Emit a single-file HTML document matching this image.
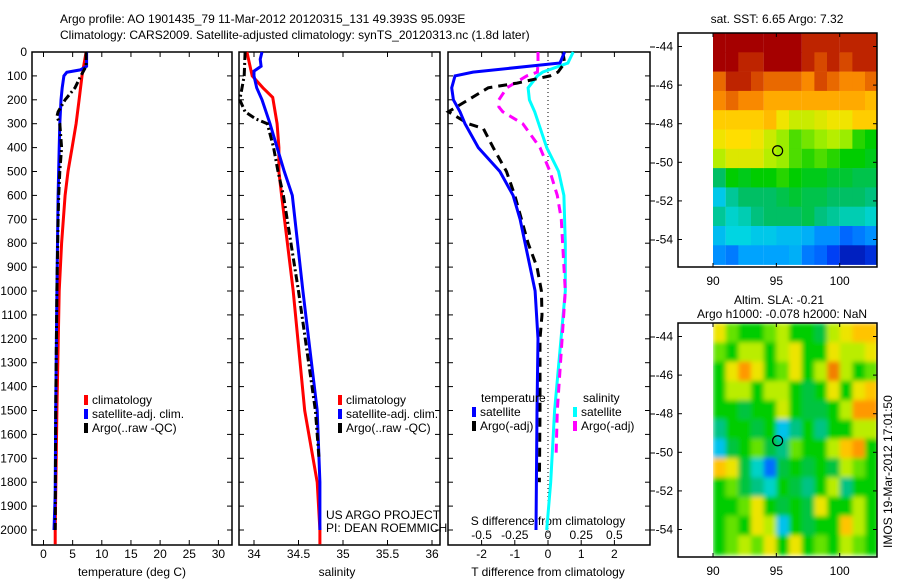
<!DOCTYPE html>
<html><head><meta charset="utf-8"><style>
body{margin:0;background:#fff;}
svg{display:block;font-family:"Liberation Sans",sans-serif;}
text{font-size:12px;fill:#000;}
</style></head><body>
<svg id="fig" width="900" height="580" viewBox="0 0 900 580">
<defs>
<clipPath id="slaClip"><rect x="713" y="323" width="164" height="234"/></clipPath>
<filter id="slaBlur" x="-5%" y="-5%" width="110%" height="110%"><feGaussianBlur stdDeviation="2.5"/></filter>
</defs>
<text x="60" y="23">Argo profile: AO 1901435_79 11-Mar-2012 20120315_131 49.393S 95.093E</text>
<text x="60" y="39">Climatology: CARS2009. Satellite-adjusted climatology: synTS_20120313.nc (1.8d later)</text>
<g id="plots"></g>
</svg>
<script>
// ---------- profile data ----------
const tDepClim=[0,100,200,300,400,500,600,800,1000,1500,2000,2060];
const tClim=[7.3,6.6,6.1,5.6,4.9,4.2,3.7,3.1,2.7,2.3,2.0,2.0];
const tDepSat=[0,60,75,85,100,150,200,300,400,600,1000,1500,1850,2000];
const tSat=[7.4,7.4,6.3,4.0,3.5,3.2,3.0,2.8,2.7,2.5,2.3,2.1,2.0,1.8];
const tDepArgo=[0,60,100,150,200,250,270,300,400,500,600,700,1000,1500,2000];
const tArgo=[7.3,7.3,6.4,5.4,3.7,2.5,2.3,2.8,3.1,2.8,2.6,2.5,2.3,2.1,2.0];
const sDepClim=[0,100,150,190,300,400,500,600,1000,1500,1800,2000,2060];
const sClim=[33.92,33.98,34.10,34.21,34.26,34.28,34.28,34.31,34.44,34.57,34.71,34.74,34.74];
const sDepSat=[0,30,60,80,100,150,200,300,400,500,600,1000,1500,1800,2000];
const sSat=[34.09,34.07,34.08,34.0,34.0,34.03,34.09,34.18,34.26,34.34,34.43,34.55,34.71,34.74,34.74];
const sDepArgo=[0,100,200,250,280,300,400,500,600,1000,1500,1700];
const sArgo=[33.90,33.89,33.84,33.90,34.02,34.15,34.22,34.27,34.33,34.50,34.69,34.73];
const dtDepSat=[0,46,84,100,150,200,250,300,400,500,600,700,800,900,1000,1200,1500,2000];
const dtSat=[0.5,0.36,-2.26,-2.8,-2.9,-2.85,-2.65,-2.5,-2.1,-1.45,-1.05,-0.84,-0.69,-0.54,-0.39,-0.3,-0.33,-0.36];
const dtDepArgo=[0,46,84,100,130,150,200,250,300,320,400,500,600,800,900,1000,1100,1200,1500,1800];
const dtArgo=[0.45,0.5,0.3,0.06,-0.93,-1.8,-2.4,-3.0,-2.4,-1.95,-1.65,-1.25,-1.0,-0.6,-0.33,-0.2,-0.18,-0.24,-0.24,-0.26];
const dsDepSat=[0,46,84,100,150,200,250,300,400,500,600,800,1000,1500,1800,2000];
const dsSat=[0.19,0.15,-0.04,-0.08,-0.15,-0.14,-0.1,-0.07,-0.01,0.08,0.12,0.13,0.13,0.05,0.02,-0.01];
const dsDepArgo=[0,46,84,100,150,200,230,250,300,400,500,600,700,800,1000,1500,1700];
const dsArgo=[-0.075,-0.075,-0.08,-0.16,-0.31,-0.37,-0.37,-0.34,-0.19,-0.06,0.015,0.07,0.1,0.11,0.13,0.07,0.06];
const depthTicks=[0,100,200,300,400,500,600,700,800,900,1000,1100,1200,1300,1400,1500,1600,1700,1800,1900,2000];
const tTicks=[0,5,10,15,20,25,30];
const sTicks=[34,34.5,35,35.5,36];
const dtTicks=[-2,-1,0,1,2];
const dsTicks=[-0.5,-0.25,0,0.25,0.5];
// ---------- map data ----------
const mapLons=[90,91,92,93,94,95,96,97,98,99,100,101,102];
const mapLats=[-43.3,-44.3,-45.3,-46.3,-47.3,-48.3,-49.3,-50.3,-51.3,-52.3,-53.3,-54.3];
const sstGrid=[
[9,9,9,9,9,9,9,8.8,8.8,8.8,8.8,8.8,8.8],
[9,9,8.8,8.8,9,9,9,8.8,8.6,8.8,8.6,8.8,8.8],
[8.4,8.8,8.8,8.6,8.4,8.4,8.4,8.2,8.6,8.4,8.2,8.2,8.4],
[8.2,8.4,8.2,8.2,8.0,8.0,8.0,8.0,8.0,8.0,8.0,8.0,7.9],
[7.8,7.8,7.8,7.8,7.9,7.6,7.4,7.4,7.5,7.6,7.6,7.8,7.8],
[7.6,7.7,7.7,7.6,7.4,7.2,7.0,7.1,7.2,7.3,7.2,6.9,6.8],
[7.3,7.5,7.5,7.5,7.3,7.2,7.0,6.9,7.0,6.9,6.8,6.8,6.7],
[6.4,6.8,6.7,6.8,6.8,6.9,6.8,6.7,6.7,6.6,6.6,6.5,6.5],
[5.8,6.2,6.4,6.4,6.4,6.5,6.6,6.5,6.5,6.4,6.4,6.4,6.3],
[6.2,6.0,6.1,6.3,6.4,6.4,6.4,6.5,6.3,6.2,6.1,6.1,6.0],
[5.7,5.9,5.9,5.8,5.8,5.7,5.7,5.6,5.4,5.4,5.2,5.3,5.4],
[5.4,5.3,5.5,5.5,5.5,5.5,5.6,5.3,5.2,5.0,4.8,4.8,4.9]];
const slaGrid=[
[0.15,0.05,0,0,0.05,0.1,0,0,-0.05,0.1,0.15,0.2,0.2],
[0.05,0,0.1,0.1,0,0.1,0.15,0,0,0.15,0.1,0.1,0.15],
[0,0.15,0.25,0.15,0,0.05,0.15,0,0.1,0.28,0.1,0,0.05],
[0,0.1,0.1,0,0.1,0.1,0,-0.05,0,0.15,0,0.15,0.2],
[0,0,-0.05,0,0,0.12,0,-0.05,-0.05,0,0.1,0.25,0.25],
[-0.1,0,0,-0.05,0,-0.2,-0.1,0,-0.1,0,0,0.1,0.1],
[-0.2,-0.05,0,0.05,-0.05,-0.1,0.05,0,0,0.1,0.2,0.25,0],
[0.2,0.15,-0.05,-0.15,-0.3,-0.05,0,-0.05,0,-0.05,0.1,0.05,0],
[0,0.05,-0.05,-0.1,-0.15,0,-0.05,-0.1,0,0.1,-0.1,0,0],
[0,0,0.05,0.15,0,-0.05,0,-0.05,0.15,0,0,0.1,0],
[0,0.05,0,0.15,0.1,-0.2,0,-0.05,0,0,0.2,0.1,0],
[0,0.05,0.1,0.05,0.15,0,0.15,0,0.05,0,0.1,0.05,0]];
const argoPos=[95.1,-49.4];
const mapLonTicks=[90,95,100];
const mapLatTicks=[-44,-46,-48,-50,-52,-54];

const NS="http://www.w3.org/2000/svg";
const root=document.getElementById('plots');
function el(tag,attrs,parent){const e=document.createElementNS(NS,tag);for(const k in attrs)e.setAttribute(k,attrs[k]);(parent||root).appendChild(e);return e;}
function txt(x,y,s,anchor,parent){const t=el('text',{x:x,y:y,'text-anchor':anchor||'start'},parent);t.textContent=s;return t;}

const yTop=52, yPer=0.239;
const yD=d=>yTop+d*yPer;
const yBot=545;
const panels=[{x0:32,x1:232},{x0:239,x1:440},{x0:448,x1:650}];
const xT=v=>43.5+5.83*v;
const xS=v=>343+89*(v-35);
const xDT=v=>548+33.2*v;
const xDS=v=>548+132.8*v;

function axisBox(p,name){
  const r=el('rect',{x:p.x0,y:yTop,width:p.x1-p.x0,height:yBot-yTop,fill:'none',stroke:'#000','stroke-width':1.5});
  
  
  depthTicks.forEach(d=>{
    el('line',{x1:p.x0,x2:p.x0+5,y1:yD(d),y2:yD(d),stroke:'#000'});
    el('line',{x1:p.x1,x2:p.x1-5,y1:yD(d),y2:yD(d),stroke:'#000'});
  });
}
function xticks(ticks,fx,labels,y){
  ticks.forEach(v=>{
    el('line',{x1:fx(v),x2:fx(v),y1:yTop,y2:yTop+5,stroke:'#000'});
    el('line',{x1:fx(v),x2:fx(v),y1:yBot,y2:yBot-5,stroke:'#000'});
    if(labels){const t=txt(fx(v),y,String(v),'middle');
      
      }
  });
}
function line(xs,ds,fx,color,dash,name){
  const pts=xs.map((v,i)=>fx(v).toFixed(1)+','+yD(ds[i]).toFixed(1)).join(' ');
  const a={points:pts,fill:'none',stroke:color,'stroke-width':3};
  if(dash)a['stroke-dasharray']=dash;
  const pl=el('polyline',a);
  
  
}

axisBox(panels[0],'temperature-axes');
axisBox(panels[1],'salinity-axes');
axisBox(panels[2],'difference-axes');
depthTicks.forEach(d=>{const t=txt(27,yD(d)+4,String(d),'end');
  
  });
xticks(tTicks,xT,true,558);
xticks(sTicks,xS,true,558);
xticks(dtTicks,xDT,true,558);
dsTicks.forEach(v=>{const t=txt(xDS(v),539,String(v),'middle');
  
  });
let lab=txt(132,576,'temperature (deg C)','middle');
lab=txt(337,576,'salinity','middle');
lab=txt(548,576,'T difference from climatology','middle');
lab=txt(548,525,'S difference from climatology','middle');
lab=txt(326,519,'US ARGO PROJECT');
lab=txt(326,532,'PI: DEAN ROEMMICH');
el('line',{x1:xDT(0),x2:xDT(0),y1:yTop,y2:yBot,stroke:'#000','stroke-dasharray':'1,3'});
[47,86,124,163,201,240,337,376,414,453,491,530].forEach(y=>el('line',{x1:650,x2:655,y1:y,y2:y,stroke:'#000'}));

line(tClim,tDepClim,xT,'#ff0000',null,'temp-climatology-line');
line(tSat,tDepSat,xT,'#0000ff',null,'temp-satellite-line');
line(tArgo,tDepArgo,xT,'#000',"8,3,2,3",'temp-argo-line');
line(sClim,sDepClim,xS,'#ff0000',null,'sal-climatology-line');
line(sSat,sDepSat,xS,'#0000ff',null,'sal-satellite-line');
line(sArgo,sDepArgo,xS,'#000',"8,3,2,3",'sal-argo-line');
line(dsSat,dsDepSat,xDS,'#00ffff',null,'sdiff-satellite-line');
line(dsArgo,dsDepArgo,xDS,'#ff00ff',"9,6",'sdiff-argo-line');
line(dtArgo,dtDepArgo,xDT,'#000',"9,6",'tdiff-argo-line');
line(dtSat,dtDepSat,xDT,'#0000ff',null,'tdiff-satellite-line');

function legend(x,y,items,name){
  items.forEach((it,i)=>{
    const g=el('g',{});
    
    
    el('rect',{x:x,y:y+i*14-9,width:4,height:10,fill:it[0]},g);
    txt(x+8,y+i*14,it[1],'start',g);
  });
}
legend(84,404,[['#ff0000','climatology'],['#0000ff','satellite-adj. clim.'],['#000','Argo(..raw -QC)']],'temp-legend');
legend(338,404,[['#ff0000','climatology'],['#0000ff','satellite-adj. clim.'],['#000','Argo(..raw -QC)']],'sal-legend');
lab=txt(481,402,'temperature');
lab=txt(583,402,'salinity');
legend(472,416,[['#0000ff','satellite'],['#000','Argo(-adj)']],'tdiff-legend');
legend(573,416,[['#00ffff','satellite'],['#ff00ff','Argo(-adj)']],'sdiff-legend');

// ---------- maps ----------
const stops=[[0,0,140],[0,70,255],[0,160,255],[0,215,225],[0,190,110],[0,205,0],[170,240,0],[255,225,0],[255,150,0],[220,80,0],[165,0,0]];
function cmap(t){t=Math.max(0,Math.min(1,t));const f=t*(stops.length-1);const i=Math.min(stops.length-2,Math.floor(f));const u=f-i;
  const c=stops[i].map((v,k)=>Math.round(v+(stops[i+1][k]-v)*u));return 'rgb('+c.join(',')+')';}
const mx=lon=>713+(lon-90)*12.67;
function drawMap(y0,grid,cmin,cmax,name,cellName,smooth){
  const lat0=-43.3, py=19.3;
  const my=lat=>y0+(lat0-lat)*py;
  const g=el('g',{});
  
  
  let cg=g;
  if(smooth){const clip=el('g',{'clip-path':'url(#slaClip)'},g);cg=el('g',{filter:'url(#slaBlur)'},clip);}
  grid.forEach((row,r)=>row.forEach((v,c)=>{
    const x=mx(mapLons[c]), y=my(mapLats[r]);
    const w=smooth?13.5:Math.min(12.8,877-x);
    const h=smooth?20:Math.min(py+0.3,y0+234-y);
    const cell=el('rect',{x:x.toFixed(1),y:y.toFixed(1),width:w.toFixed(1),height:h.toFixed(1),fill:cmap((v-cmin)/(cmax-cmin))},cg);
    
    
  }));
  el('rect',{x:678,y:y0,width:199,height:234,fill:'none',stroke:'#000','stroke-width':1.5},g);
  mapLonTicks.forEach(l=>{el('line',{x1:mx(l),x2:mx(l),y1:y0,y2:y0+4,stroke:'#000'},g);el('line',{x1:mx(l),x2:mx(l),y1:y0+234,y2:y0+230,stroke:'#000'},g);
    txt(mx(l),y0+252,String(l),'middle',g);});
  mapLatTicks.forEach(l=>{el('line',{x1:678,x2:682,y1:my(l),y2:my(l),stroke:'#000'},g);el('line',{x1:877,x2:873,y1:my(l),y2:my(l),stroke:'#000'},g);
    txt(673,my(l)+4,String(l),'end',g);});
  const c=el('circle',{cx:mx(argoPos[0]),cy:my(argoPos[1]),r:5,fill:'none',stroke:'#000','stroke-width':1.2},g);
  
  
}
drawMap(33,sstGrid,4.6,9.0,'sst-map','sst-cell',false);
drawMap(323,slaGrid,-0.42,0.42,'sla-map','sla-cell',true);
lab=txt(777,23,'sat. SST: 6.65 Argo: 7.32','middle');
lab=txt(779,304,'Altim. SLA: -0.21','middle');
lab=txt(782,318,'Argo h1000: -0.078 h2000: NaN','middle');
lab=el('text',{x:0,y:0,transform:'translate(892,548) rotate(-90)'});lab.textContent='IMOS 19-Mar-2012 17:01:50';

</script>
</body></html>
